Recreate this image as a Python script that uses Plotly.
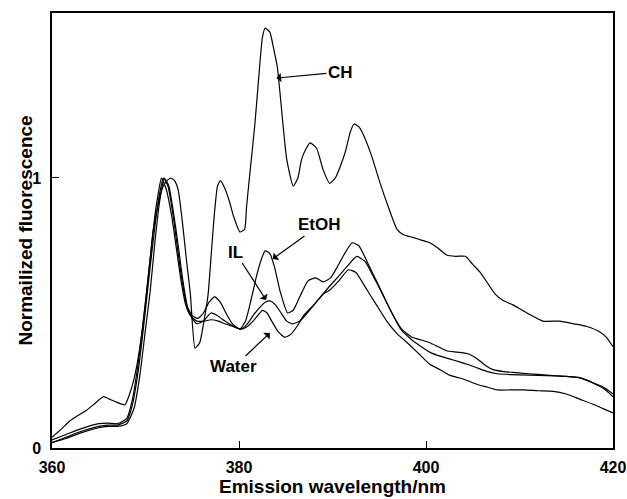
import plotly.graph_objects as go

# ---- data ----
ch_x = [360, 361, 361.9, 363, 363.7, 364.6, 365.5, 366.2, 366.9, 367.8, 368.3, 368.8, 369.2, 369.7, 370.1,
        370.5, 370.8, 371.4, 371.9, 372.3, 372.7, 373.1, 373.5, 374.0, 374.4, 374.8, 375.3, 375.8, 376.3,
        376.7, 377.1, 377.4, 377.7, 378.0, 378.5, 379.0, 379.4, 380.1, 380.6, 380.8, 381.2, 381.7, 382.2,
        382.5, 382.8, 383.3, 383.7, 384.1, 384.7, 385.1, 385.8, 386.3, 386.7, 387.2, 387.6, 388.3, 389.0,
        389.7, 390.3, 390.8, 391.4, 391.9, 392.3, 392.8, 393.3, 394.2, 395.1, 396.0, 396.9, 397.6, 398.6,
        399.5, 400.4, 401.3, 402.2, 403.2, 404.2, 405.0, 405.8, 406.6, 407.4, 408.3, 409.3, 410.8, 412.5,
        414.3, 415.8, 417.2, 418.6, 419.3, 420]
ch_y = [0.04, 0.07, 0.10, 0.125, 0.14, 0.165, 0.19, 0.18, 0.17, 0.16, 0.20, 0.26, 0.33, 0.45, 0.57,
        0.70, 0.80, 0.91, 0.97, 0.99, 1.00, 0.99, 0.955, 0.82, 0.69, 0.57, 0.37, 0.39, 0.48,
        0.57, 0.75, 0.88, 0.97, 0.99, 0.96, 0.91, 0.86, 0.80, 0.81, 0.89, 1.03, 1.20, 1.41,
        1.52, 1.555, 1.54, 1.48, 1.41, 1.20, 1.07, 0.97, 1.00, 1.07, 1.11, 1.13, 1.11, 1.03,
        0.98, 1.00, 1.04, 1.10, 1.17, 1.20, 1.19, 1.16, 1.08, 0.98, 0.89, 0.81, 0.79, 0.78,
        0.77, 0.76, 0.74, 0.715, 0.71, 0.71, 0.68, 0.65, 0.61, 0.57, 0.545, 0.53, 0.50, 0.47,
        0.47, 0.46, 0.45, 0.43, 0.41, 0.375]

etoh_x = [360, 361.5, 363, 365, 366, 367, 368, 368.6, 369.2, 369.8, 370.4, 371, 371.5, 371.9, 372.4, 373,
          373.5, 374, 374.4, 375, 375.6, 376.2, 376.8, 377.4, 378, 378.6, 379.3, 380.1, 380.7, 381.3,
          381.9, 382.4, 382.8, 383.3, 383.8, 384.4, 385.2, 385.8, 386.5, 387.4, 388.2, 389.0, 389.8,
          390.5, 391.3, 392.1, 392.8, 393.7, 394.4, 395.1, 396.2, 397.4, 398.5, 399.5, 400.4, 401.3,
          402.2, 403.3, 404.4, 405.5, 406.4, 407.2, 408.3, 409.3, 411.0, 412.9, 415.0, 416.5, 417.9,
          419.0, 420]
etoh_y = [0.02, 0.04, 0.06, 0.08, 0.085, 0.085, 0.10, 0.16, 0.28, 0.45, 0.64, 0.82, 0.94, 1.00, 0.97, 0.85,
          0.72, 0.60, 0.53, 0.49, 0.48, 0.50, 0.54, 0.56, 0.54, 0.50, 0.46, 0.44, 0.47, 0.55,
          0.64, 0.70, 0.73, 0.72, 0.67, 0.58, 0.50, 0.51, 0.56, 0.62, 0.63, 0.615, 0.63,
          0.67, 0.72, 0.76, 0.75, 0.69, 0.64, 0.59, 0.51, 0.44, 0.41, 0.40, 0.39, 0.375,
          0.36, 0.355, 0.35, 0.33, 0.305, 0.29, 0.283, 0.28, 0.275, 0.27, 0.265, 0.26, 0.24,
          0.22, 0.19]

il_x = [360, 361.5, 363, 365, 366, 367, 368, 368.6, 369.2, 369.8, 370.4, 371, 371.4, 371.7, 372.2, 372.8,
        373.3, 373.8, 374.3, 374.8, 375.5, 376.3, 377.0, 377.8, 378.5, 379.4, 380.2, 380.9, 381.5, 382.2,
        382.8, 383.3, 383.9, 384.5, 385.1, 385.7, 386.5, 387.3, 388.5, 389.7, 390.5, 391.5, 392.6, 393.5,
        394.3, 395.2, 396.2, 397.3, 398.5, 399.5, 400.4, 401.5, 402.5, 403.5, 404.4, 405.6, 406.6, 407.6,
        409.0, 411.0, 413.0, 415.0, 416.5, 418.0, 419.0, 420]
il_y = [0.03, 0.05, 0.07, 0.09, 0.092, 0.09, 0.11, 0.18, 0.31, 0.48, 0.67, 0.86, 0.95, 1.00, 0.96, 0.86,
        0.74, 0.62, 0.53, 0.49, 0.47, 0.47, 0.475, 0.47, 0.46, 0.45, 0.44, 0.46, 0.49, 0.52,
        0.54, 0.545, 0.53, 0.50, 0.47, 0.46, 0.47, 0.50, 0.55, 0.60, 0.63, 0.67, 0.71, 0.69,
        0.64, 0.58, 0.51, 0.44, 0.40, 0.375, 0.355, 0.34, 0.33, 0.32, 0.31, 0.295, 0.283, 0.275,
        0.272, 0.27, 0.268, 0.265, 0.26, 0.24, 0.225, 0.20]

water_x = [360, 361.5, 363, 365, 366, 367, 368, 368.8, 369.4, 370, 370.5, 371, 371.5, 372, 372.5, 373,
           373.5, 374, 374.5, 375.0, 375.5, 376.2, 377.0, 377.7, 378.5, 379.4, 380.2, 380.9, 381.5, 382.0,
           382.5, 383.0, 383.5, 384.2, 384.9, 385.5, 386.2, 386.9, 388.0, 389.0, 389.7, 390.7, 391.7,
           392.5, 393.7, 394.7, 395.8, 397.0, 398.0, 399.2, 400.4, 401.5, 402.5, 403.5, 404.4, 405.5,
           406.6, 407.6, 409.0, 410.5, 412.0, 413.6, 415.0, 416.5, 418.0, 419.0, 420]
water_y = [0.02, 0.035, 0.055, 0.075, 0.08, 0.08, 0.09, 0.15, 0.27, 0.44, 0.58, 0.76, 0.91, 1.00, 0.97, 0.87,
           0.75, 0.62, 0.52, 0.48, 0.46, 0.47, 0.50, 0.49, 0.47, 0.45, 0.44, 0.45, 0.47, 0.49,
           0.51, 0.50, 0.47, 0.43, 0.41, 0.42, 0.45, 0.49, 0.53, 0.57, 0.585, 0.62, 0.66,
           0.65, 0.585, 0.53, 0.47, 0.42, 0.39, 0.35, 0.31, 0.29, 0.27, 0.26, 0.25, 0.235,
           0.225, 0.215, 0.215, 0.215, 0.212, 0.21, 0.20, 0.18, 0.16, 0.145, 0.13]

x_ticks = [360, 380, 400, 420]
y_ticks = [0, 1]
x_title = "Emission wavelength/nm"
y_title = "Normailized fluorescence"

# label: (text, head_x, head_y, text offset px)
labels = [
    ("CH", 384.0, 1.37, 64, -6),
    ("EtOH", 383.6, 0.70, 47, -34),
    ("IL", 382.9, 0.548, -31, -48),
    ("Water", 383.3, 0.426, -36, 34),
]

FONT = "Arial, Liberation Sans, Helvetica, sans-serif"

fig = go.Figure()
for xs, ys, name in [(ch_x, ch_y, "CH"), (etoh_x, etoh_y, "EtOH"), (il_x, il_y, "IL"), (water_x, water_y, "Water")]:
    fig.add_trace(go.Scatter(x=xs, y=ys, mode="lines", name=name,
                             line=dict(color="black", width=1.2, shape="spline", smoothing=0.5),
                             showlegend=False))

for text, hx, hy, ax, ay in labels:
    fig.add_annotation(x=hx, y=hy, ax=ax, ay=ay, text="<b>" + text + "</b>",
                       showarrow=True, arrowhead=1, arrowsize=1.3, arrowwidth=1.2,
                       arrowcolor="black", font=dict(family=FONT, size=17, color="black"))

# axis titles placed as paper annotations
fig.add_annotation(xref="paper", yref="paper", x=0.5, y=-0.089, xanchor="center", yanchor="middle",
                   text="<b>" + x_title + "</b>", showarrow=False,
                   font=dict(family=FONT, size=19, color="black"))
fig.add_annotation(xref="paper", yref="paper", x=-0.048, y=0.5, xanchor="center", yanchor="middle",
                   text="<b>" + y_title + "</b>", showarrow=False, textangle=-90,
                   font=dict(family=FONT, size=19, color="black"))

fig.update_layout(
    width=627, height=499,
    margin=dict(l=52, r=14, t=13, b=51, autoexpand=False),
    plot_bgcolor="white", paper_bgcolor="white",
    font=dict(family=FONT, color="black"),
)
fig.update_xaxes(range=[360, 420], tickvals=x_ticks, ticktext=["<b>%d</b>" % v for v in x_ticks],
                 ticks="inside", ticklen=7, tickwidth=1.2, tickcolor="black",
                 showline=True, linecolor="black", linewidth=1.5, mirror=True,
                 showgrid=False, zeroline=False, ticklabeloverflow="allow", ticklabelstandoff=4,
                 automargin=False, tickfont=dict(size=16, family=FONT))
fig.update_yaxes(range=[0, 1.611], tickvals=y_ticks, ticktext=["<b>%d</b>" % v for v in y_ticks],
                 ticks="inside", ticklen=7, tickwidth=1.2, tickcolor="black",
                 showline=True, linecolor="black", linewidth=1.5, mirror=True,
                 showgrid=False, zeroline=False, ticklabelstandoff=6,
                 automargin=False, tickfont=dict(size=16, family=FONT))

fig.write_html("out.html")
